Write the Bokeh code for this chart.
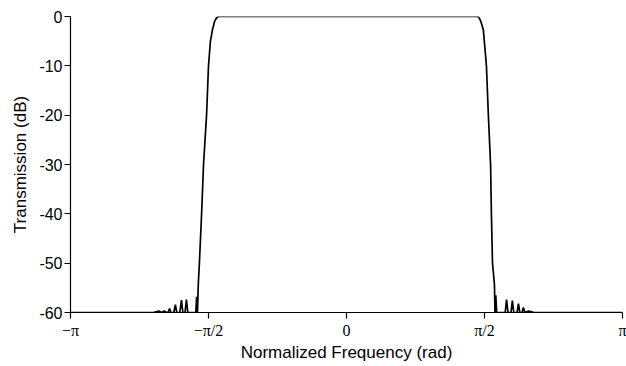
import math
from bokeh.plotting import figure
from bokeh.models import FixedTicker, Range1d
from bokeh.embed import file_html
from bokeh.resources import INLINE

# Frequency in units of pi (rad / pi), transmission in dB (clipped at -60)
freq_over_pi = [
    -1.000, -0.700, -0.680, -0.670, -0.660, -0.652,
    -0.647, -0.641, -0.636,
    -0.626, -0.620, -0.615,
    -0.604, -0.598, -0.593,
    -0.585, -0.580, -0.575,
    -0.546, -0.543, -0.540, -0.537,
    -0.533, -0.525, -0.518, -0.507, -0.500, -0.493, -0.486, -0.478, -0.471, -0.464,
    0.000,
    0.476, 0.482, 0.488, 0.496, 0.507, 0.514, 0.522, 0.525, 0.529, 0.536,
    0.538, 0.541, 0.544,
    0.575, 0.580, 0.585,
    0.596, 0.601, 0.606,
    0.618, 0.623, 0.628,
    0.636, 0.641, 0.646,
    0.660, 0.680, 1.000,
]
transmission_db = [
    -60.0, -60.0, -59.7, -60.0, -59.7, -60.0,
    -60.0, -59.2, -60.0,
    -60.0, -58.4, -60.0,
    -60.0, -57.5, -60.0,
    -60.0, -57.4, -60.0,
    -60.0, -56.8, -60.0, -54.3,
    -50.0, -40.0, -30.0, -20.0, -10.0, -5.0, -2.8, -1.0, -0.3, 0.0,
    0.0,
    0.0, -0.4, -1.2, -2.8, -10.0, -20.0, -30.0, -40.0, -50.0, -54.3,
    -60.0, -56.5, -60.0,
    -60.0, -57.4, -60.0,
    -60.0, -57.6, -60.0,
    -60.0, -58.2, -60.0,
    -60.0, -59.0, -60.0,
    -59.7, -60.0, -60.0,
]

x_tick_pos_over_pi = [-1.0, -0.5, 0.0, 0.5, 1.0]
x_tick_labels = ["\u2212\u03c0", "\u2212\u03c0/2", "0", "\u03c0/2", "\u03c0"]
y_ticks = [-60, -50, -40, -30, -20, -10, 0]
y_tick_labels = ["-60", "-50", "-40", "-30", "-20", "-10", "0"]

x = [f * math.pi for f in freq_over_pi]
x_ticks = [t * math.pi for t in x_tick_pos_over_pi]

p = figure(width=626, height=366, output_backend="svg", toolbar_location=None,
           x_range=Range1d(-math.pi, math.pi), y_range=Range1d(-60, 0))
p.min_border_left = 70
p.min_border_top = 16
p.min_border_right = 4
p.min_border_bottom = 54
p.outline_line_color = None
p.grid.visible = False
p.background_fill_color = "white"
p.border_fill_color = "white"

p.line(x, transmission_db, line_color="black", line_width=1.7)

xa = p.xaxis[0]
xa.ticker = FixedTicker(ticks=x_ticks)
xa.major_label_overrides = {t: l for t, l in zip(x_ticks, x_tick_labels)}
xa.major_label_text_font = "Liberation Serif"
xa.major_label_text_font_size = "16px"
xa.major_label_standoff = 3
xa.axis_label = "Normalized Frequency (rad)"
xa.axis_label_text_font = "Liberation Sans"
xa.axis_label_text_font_size = "17px"
xa.axis_label_text_font_style = "normal"
xa.axis_label_standoff = 1

ya = p.yaxis[0]
ya.ticker = FixedTicker(ticks=y_ticks)
ya.major_label_overrides = {t: l for t, l in zip(y_ticks, y_tick_labels)}
ya.major_label_text_font = "Liberation Sans"
ya.major_label_text_font_size = "16px"
ya.major_label_standoff = 2
ya.axis_label = "Transmission (dB)"
ya.axis_label_text_font = "Liberation Sans"
ya.axis_label_text_font_size = "17px"
ya.axis_label_text_font_style = "normal"
ya.axis_label_standoff = 6

for ax in (xa, ya):
    ax.axis_line_color = "black"
    ax.axis_line_width = 1.2
    ax.major_tick_line_color = "black"
    ax.major_tick_line_width = 1.2
    ax.major_tick_out = 6
    ax.major_tick_in = 0
    ax.minor_tick_line_color = None
    ax.major_label_text_color = "black"
    ax.axis_label_text_color = "black"

open("out.html", "w").write(file_html(p, INLINE))
